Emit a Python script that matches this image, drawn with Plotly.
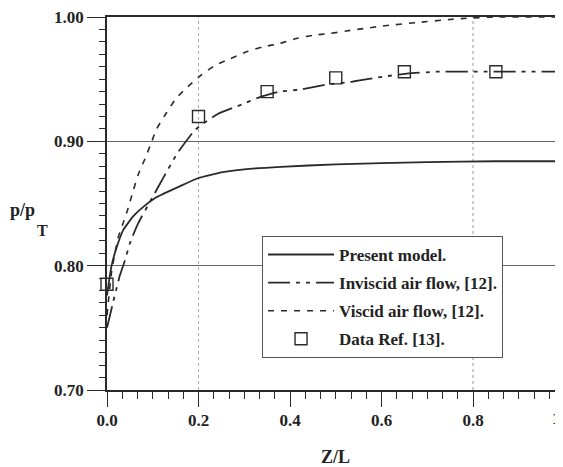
import plotly.graph_objects as go

# ---- data ----
z_present = [0, 0.005, 0.01, 0.021, 0.036, 0.058, 0.08, 0.108, 0.16, 0.2, 0.25, 0.3, 0.38, 0.5, 0.7, 0.85, 1.0]
p_present = [0.776, 0.789, 0.800, 0.8147, 0.829, 0.840, 0.8475, 0.855, 0.864, 0.8705, 0.875, 0.8775, 0.8795,
             0.8815, 0.8832, 0.884, 0.884]

z_inviscid = [0, 0.013, 0.021, 0.028, 0.039, 0.05, 0.068, 0.095, 0.122, 0.153, 0.192, 0.217, 0.242,
              0.297, 0.33, 0.378, 0.421, 0.48, 0.537, 0.603, 0.655, 0.72, 0.8, 1.0]
p_inviscid = [0.750, 0.770, 0.782, 0.792, 0.804, 0.818, 0.834, 0.852, 0.870, 0.890, 0.909, 0.916, 0.922,
              0.930, 0.935, 0.940, 0.9416, 0.9456, 0.948, 0.952, 0.9544, 0.956, 0.956, 0.956]

z_viscid = [0, 0.01, 0.024, 0.035, 0.046, 0.057, 0.068, 0.083, 0.098, 0.108, 0.13, 0.152, 0.177, 0.207,
            0.236, 0.269, 0.305, 0.341, 0.378, 0.414, 0.45, 0.487, 0.523, 0.567, 0.603, 0.676, 0.749,
            0.786, 0.85, 1.0]
p_viscid = [0.76, 0.795, 0.822, 0.834, 0.846, 0.86, 0.873, 0.886, 0.90, 0.9096, 0.923, 0.935, 0.944, 0.9536,
            0.961, 0.9664, 0.972, 0.976, 0.9787, 0.9827, 0.9853, 0.9867, 0.9888, 0.991, 0.9928, 0.9955, 0.998,
            0.999, 1.0, 1.0]

z_data = [0, 0.2, 0.35, 0.5, 0.65, 0.85, 1.0]
p_data = [0.785, 0.920, 0.940, 0.951, 0.956, 0.956, 0.956]

x_tickvals = [0, 0.2, 0.4, 0.6, 0.8]
x_ticktext = ["0.0", "0.2", "0.4", "0.6", "0.8"]
x_last_label = "1"          # only this part of the last label is visible at the right edge
y_tickvals = [0.70, 0.80, 0.90, 1.00]
y_ticktext = ["0.70", "0.80", "0.90", "1.00"]

INK = "#2a2a2a"
FONT = "Liberation Serif"
X_MAX = 0.9967   # the plot runs just short of Z/L = 1 at the picture's right edge

fig = go.Figure()
fig.add_trace(go.Scatter(x=z_present, y=p_present, mode="lines", name="Present model.",
                         legendgroup="a", line=dict(color=INK, width=1.8, shape="spline", smoothing=0.4)))
fig.add_trace(go.Scatter(x=z_inviscid, y=p_inviscid, mode="lines", name="Inviscid air flow, [12].",
                         legendgroup="b",
                         line=dict(color=INK, width=1.8, dash="22px,6px,4px,6px,4px,6px",
                                   shape="spline", smoothing=0.5)))
fig.add_trace(go.Scatter(x=z_viscid, y=p_viscid, mode="lines", name="Viscid air flow, [12].",
                         legendgroup="c",
                         line=dict(color=INK, width=1.6, dash="6px,7px", shape="spline", smoothing=0.5)))

marker_style = dict(symbol="square-open", size=12, color=INK, line=dict(width=1.4, color=INK))
inside = [i for i, z in enumerate(z_data) if z <= X_MAX]
outside = [i for i, z in enumerate(z_data) if z > X_MAX]
fig.add_trace(go.Scatter(x=[z_data[i] for i in inside], y=[p_data[i] for i in inside],
                         mode="markers", name="Data Ref. [13].", legendgroup="d",
                         cliponaxis=False, marker=marker_style))
# points beyond the right edge: drawn clipped by the plot area (partly visible)
fig.add_trace(go.Scatter(x=[z_data[i] for i in outside], y=[p_data[i] for i in outside],
                         mode="markers", name="Data Ref. [13].", legendgroup="d", showlegend=False,
                         cliponaxis=True, marker=marker_style))

tickfont = dict(family=FONT, size=17, color="#222", weight="bold")

# the page body adds 8px around the figure, so the figure is 8px smaller
fig.update_layout(
    width=555, height=459,
    margin=dict(l=99, r=0, t=7, b=77),
    paper_bgcolor="white", plot_bgcolor="white",
    showlegend=True,
    legend=dict(x=0.34, y=0.413, xanchor="left", yanchor="top",
                bgcolor="white", bordercolor="#555", borderwidth=1,
                font=dict(family=FONT, size=17, color="#222", weight="bold"),
                itemwidth=66, tracegroupgap=3),
    xaxis=dict(range=[0, X_MAX], tickvals=x_tickvals, ticktext=x_ticktext,
               ticks="outside", ticklen=15, tickwidth=1.3, tickcolor=INK,
               showline=True, linecolor=INK, linewidth=1.5, mirror=True,
               showgrid=False, zeroline=False, tickfont=tickfont, ticklabelstandoff=-1,
               ticklabeloverflow="allow",
               minor=dict(dtick=0.2 / 6, tick0=0, ticks="outside", ticklen=7,
                          tickwidth=1.2, tickcolor=INK, showgrid=False)),
    yaxis=dict(range=[0.70, 1.00], tickvals=y_tickvals, ticktext=y_ticktext,
               ticks="outside", ticklen=18, tickwidth=1.3, tickcolor=INK,
               showline=True, linecolor=INK, linewidth=1.5, mirror=False,
               showgrid=True, gridcolor="#666", gridwidth=1.2, zeroline=False, tickfont=tickfont,
               ticklabeloverflow="allow",
               minor=dict(dtick=0.01, tick0=0.7, ticks="outside", ticklen=6,
                          tickwidth=1.2, tickcolor=INK, showgrid=False)),
    shapes=[
        dict(type="line", xref="x", yref="paper", x0=0.2, x1=0.2, y0=0, y1=1,
             line=dict(color="#aaa", width=1, dash="dot"), layer="below"),
        dict(type="line", xref="x", yref="paper", x0=0.8, x1=0.8, y0=0, y1=1,
             line=dict(color="#999", width=1, dash="dot"), layer="below"),
    ],
    annotations=[
        dict(text=x_last_label, x=0.9868, xref="paper", y=0, yref="paper", yanchor="top",
             xanchor="center", yshift=-17, showarrow=False, font=tickfont),
        dict(text="p/p", x=0, xref="paper", xshift=-85, xanchor="center",
             y=0.4827, yref="paper", yanchor="middle", showarrow=False,
             font=dict(family=FONT, size=18, color="#222", weight="bold")),
        dict(text="T", x=0, xref="paper", xshift=-65, xanchor="center",
             y=0.4267, yref="paper", yanchor="middle", showarrow=False,
             font=dict(family=FONT, size=16, color="#222", weight="bold")),
        dict(text="Z/L", x=0.502, xref="paper", xanchor="center",
             y=-0.1787, yref="paper", yanchor="middle", showarrow=False,
             font=dict(family=FONT, size=18, color="#222", weight="bold")),
    ],
)

fig.write_html("out.html")
